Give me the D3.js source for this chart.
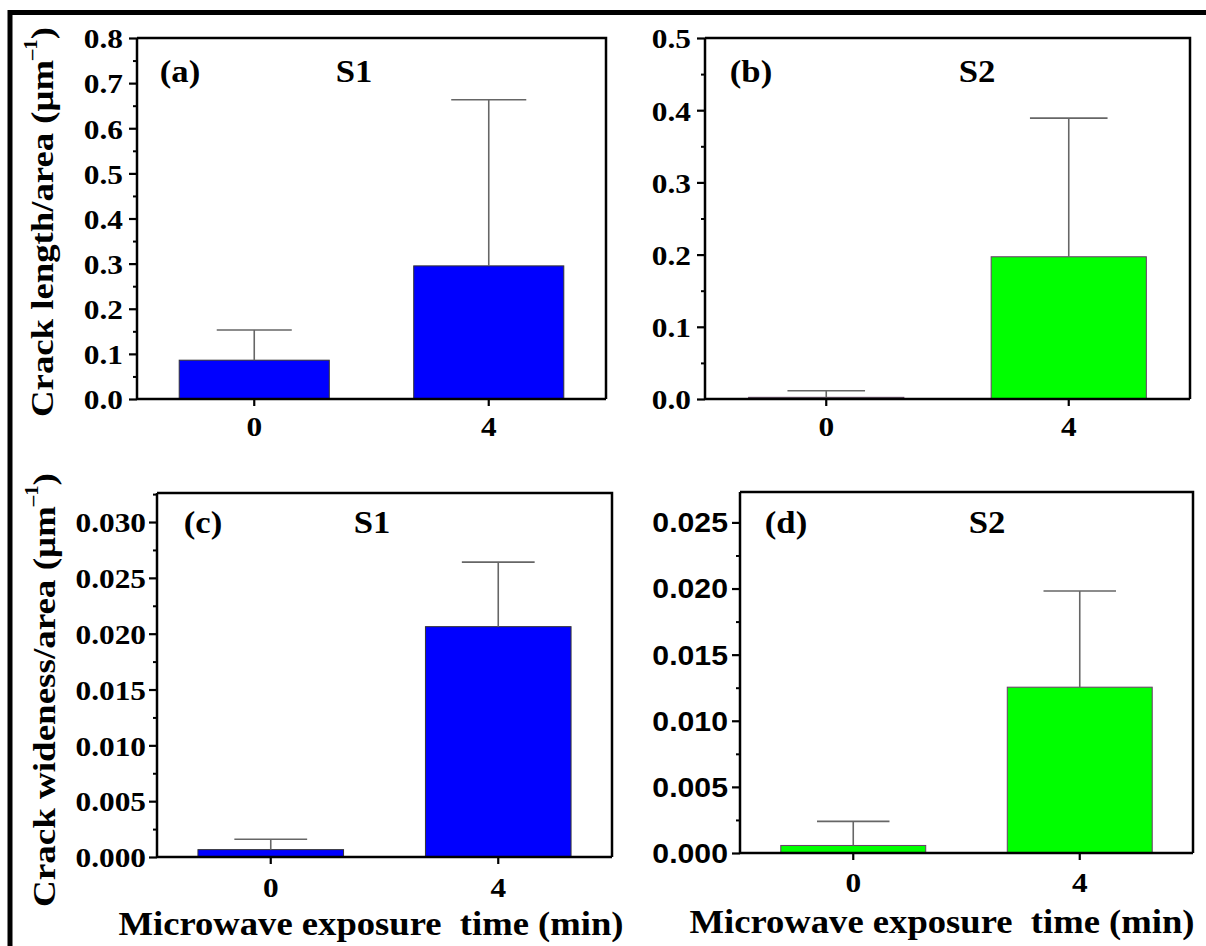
<!DOCTYPE html>
<html><head><meta charset="utf-8">
<script src="https://cdn.jsdelivr.net/npm/d3@7"></script>
<style>body{margin:0;background:#fff}svg{display:block}</style>
</head><body><svg id="c" width="1206" height="946"></svg>
<script>
// ---------- data ----------
const categories = ["0", "4"];
const lengthS1 = [0.086, 0.295];
const lengthS1Err = [0.067, 0.368];
const lengthS2 = [0.0023, 0.197];
const lengthS2Err = [0.0092, 0.192];
const widenessS1 = [0.00066, 0.02063];
const widenessS1Err = [0.00093, 0.00578];
const widenessS2 = [0.00057, 0.01254];
const widenessS2Err = [0.00182, 0.00727];
const yTicksA = [0, 0.1, 0.2, 0.3, 0.4, 0.5, 0.6, 0.7, 0.8];
const yTicksB = [0, 0.1, 0.2, 0.3, 0.4, 0.5];
const yTicksC = [0, 0.005, 0.010, 0.015, 0.020, 0.025, 0.030];
const yTicksD = [0, 0.005, 0.010, 0.015, 0.020, 0.025];
const yMax = [0.8, 0.5, 0.0326, 0.0273];
const panelLabels = ["(a)", "(b)", "(c)", "(d)"];
const sampleLabels = ["S1", "S2", "S1", "S2"];
const yTitleLength = "Crack length/area (μm";
const yTitleWideness = "Crack wideness/area (μm";
const xTitle = "Microwave exposure  time (min)";

// ---------- layout ----------
const SERIF = "'Liberation Serif','Times New Roman',Times,serif";
const SANS = "'Liberation Sans',Arial,sans-serif";
const SX = 1.12;
const BLUE = "#0000ff", GREEN = "#00ff00";

const panels = [
  {L:137, R:606, T:38,  B:399, vals:lengthS1,   errs:lengthS1Err,   ticks:yTicksA, fmt:".1f", max:yMax[0], fill:BLUE,  edge:"#333",    tickFont:SERIF, tickSize:28, lab:[43,34], smp:[217,34], tickGap:14, xLabDy:28},
  {L:705, R:1190,T:38,  B:399, vals:lengthS2,   errs:lengthS2Err,   ticks:yTicksB, fmt:".1f", max:yMax[1], fill:GREEN, edge:"#6a3a6a", tickFont:SERIF, tickSize:28, lab:[46,34], smp:[272,34], tickGap:14, xLabDy:28},
  {L:157, R:612, T:493, B:857, vals:widenessS1, errs:widenessS1Err, ticks:yTicksC, fmt:".3f", max:yMax[2], fill:BLUE,  edge:"#333",    tickFont:SERIF, tickSize:28, lab:[46,30], smp:[215,30], tickGap:11, xLabDy:31},
  {L:740, R:1193,T:492, B:853, vals:widenessS2, errs:widenessS2Err, ticks:yTicksD, fmt:".3f", max:yMax[3], fill:GREEN, edge:"#6a3a6a", tickFont:SANS,  tickSize:27, lab:[46,31], smp:[247,31], tickGap:12, xLabDy:30}
];

const svg = d3.select("#c");
svg.append("rect").attr("width",1206).attr("height",946).attr("fill","#fff");

function stretchedText(g, x, y, str, size, font, anchor) {
  return g.append("text")
    .attr("transform", `translate(${x},${y}) scale(${SX},1)`)
    .attr("text-anchor", anchor || "middle")
    .attr("dominant-baseline", "central")
    .attr("font-family", font).attr("font-weight", "bold").attr("font-size", size)
    .attr("fill", "#000").text(str);
}

panels.forEach((p, i) => {
  const g = svg.append("g");
  const x = d3.scaleBand().domain(categories).range([p.L, p.R]).paddingInner(0.36).paddingOuter(0.18);
  const y = d3.scaleLinear().domain([0, p.max]).range([p.B, p.T]);
  const bw = x.bandwidth();

  // bars
  g.selectAll("rect.bar").data(categories).join("rect")
    .attr("x", d => x(d)).attr("width", bw)
    .attr("y", (d, k) => y(p.vals[k])).attr("height", (d, k) => p.B - y(p.vals[k]))
    .attr("fill", p.fill).attr("stroke", p.edge).attr("stroke-width", 1);

  // error bars (upper)
  const eg = g.append("g").attr("stroke", "#666").attr("stroke-width", 1.6).attr("fill", "none");
  categories.forEach((c, k) => {
    const cx = x(c) + bw / 2;
    const yTop = y(p.vals[k] + p.errs[k]);
    eg.append("line").attr("x1", cx).attr("x2", cx).attr("y1", y(p.vals[k])).attr("y2", yTop);
    eg.append("line").attr("x1", cx - bw / 4).attr("x2", cx + bw / 4).attr("y1", yTop).attr("y2", yTop);
  });

  // frame top / right
  g.append("path").attr("d", `M${p.L},${p.T}H${p.R}V${p.B}`).attr("fill", "none").attr("stroke", "#000").attr("stroke-width", 2.5);

  // y axis major
  const yAx = g.append("g").attr("transform", `translate(${p.L},0)`)
    .call(d3.axisLeft(y).tickValues(p.ticks).tickFormat(d3.format(p.fmt)).tickSize(8).tickPadding(4));
  yAx.select(".domain").attr("stroke-width", 2.5).attr("d", `M0,${p.B}V${p.T}`);
  yAx.selectAll(".tick line").attr("stroke-width", 2.2);
  yAx.selectAll(".tick text")
    .attr("font-family", p.tickFont).attr("font-weight", "bold").attr("font-size", p.tickSize).attr("fill", "#000")
    .attr("x", -p.tickGap / SX).attr("transform", `scale(${SX},1)`)
    .attr("dy", "0.35em");
  // minor ticks
  const step = p.ticks[1] - p.ticks[0];
  const minor = p.ticks.map(t => t + step / 2).filter(t => t < p.max);
  const yMin = g.append("g").attr("transform", `translate(${p.L},0)`)
    .call(d3.axisLeft(y).tickValues(minor).tickFormat("").tickSize(4));
  yMin.select(".domain").remove();
  yMin.selectAll(".tick line").attr("stroke-width", 2);

  // x axis
  const xAx = g.append("g").attr("transform", `translate(0,${p.B})`)
    .call(d3.axisBottom(x).tickSize(7).tickSizeOuter(0).tickPadding(12));
  xAx.select(".domain").attr("stroke-width", 2.5).attr("d", `M${p.L},0H${p.R}`);
  xAx.selectAll(".tick line").attr("stroke-width", 2.2);
  xAx.selectAll(".tick text").remove();
  categories.forEach(c => stretchedText(g, x(c) + bw / 2, p.B + p.xLabDy, c, 28, SERIF));

  // panel labels
  stretchedText(g, p.L + p.lab[0], p.T + p.lab[1], panelLabels[i], 31, SERIF);
  stretchedText(g, p.L + p.smp[0], p.T + p.smp[1], sampleLabels[i], 31, SERIF);
});

// y titles (stretched along their length to match)
function yTitle(str, cx, cy, len) {
  const g = svg.append("g").attr("transform", `translate(${cx},${cy}) rotate(-90)`);
  const t = g.append("text")
    .attr("text-anchor", "middle").attr("dominant-baseline", "central")
    .attr("font-family", SERIF).attr("font-weight", "bold").attr("font-size", 32);
  t.append("tspan").text(str);
  t.append("tspan").attr("font-size", 18).attr("dy", -12).text("–1");
  t.append("tspan").attr("dy", 12).text(")");
  const w = t.node().getComputedTextLength();
  t.attr("transform", `scale(${len / w},1)`);
}
yTitle(yTitleLength, 42, 222, 390);
yTitle(yTitleWideness, 44, 690, 434);

// x titles
function xT(cx, cy) {
  svg.append("text").attr("x", cx).attr("y", cy)
    .attr("text-anchor", "middle").attr("dominant-baseline", "central")
    .attr("font-family", SERIF).attr("font-weight", "bold").attr("font-size", 33)
    .style("white-space", "pre")
    .attr("textLength", 505).attr("lengthAdjust", "spacingAndGlyphs").text(xTitle);
}
xT(371, 924);
xT(942, 922);

// outer frame (cropped on right & bottom)
svg.append("path").attr("d", "M10,960V12.5H1220").attr("fill", "none").attr("stroke", "#000").attr("stroke-width", 5);
</script></body></html>
